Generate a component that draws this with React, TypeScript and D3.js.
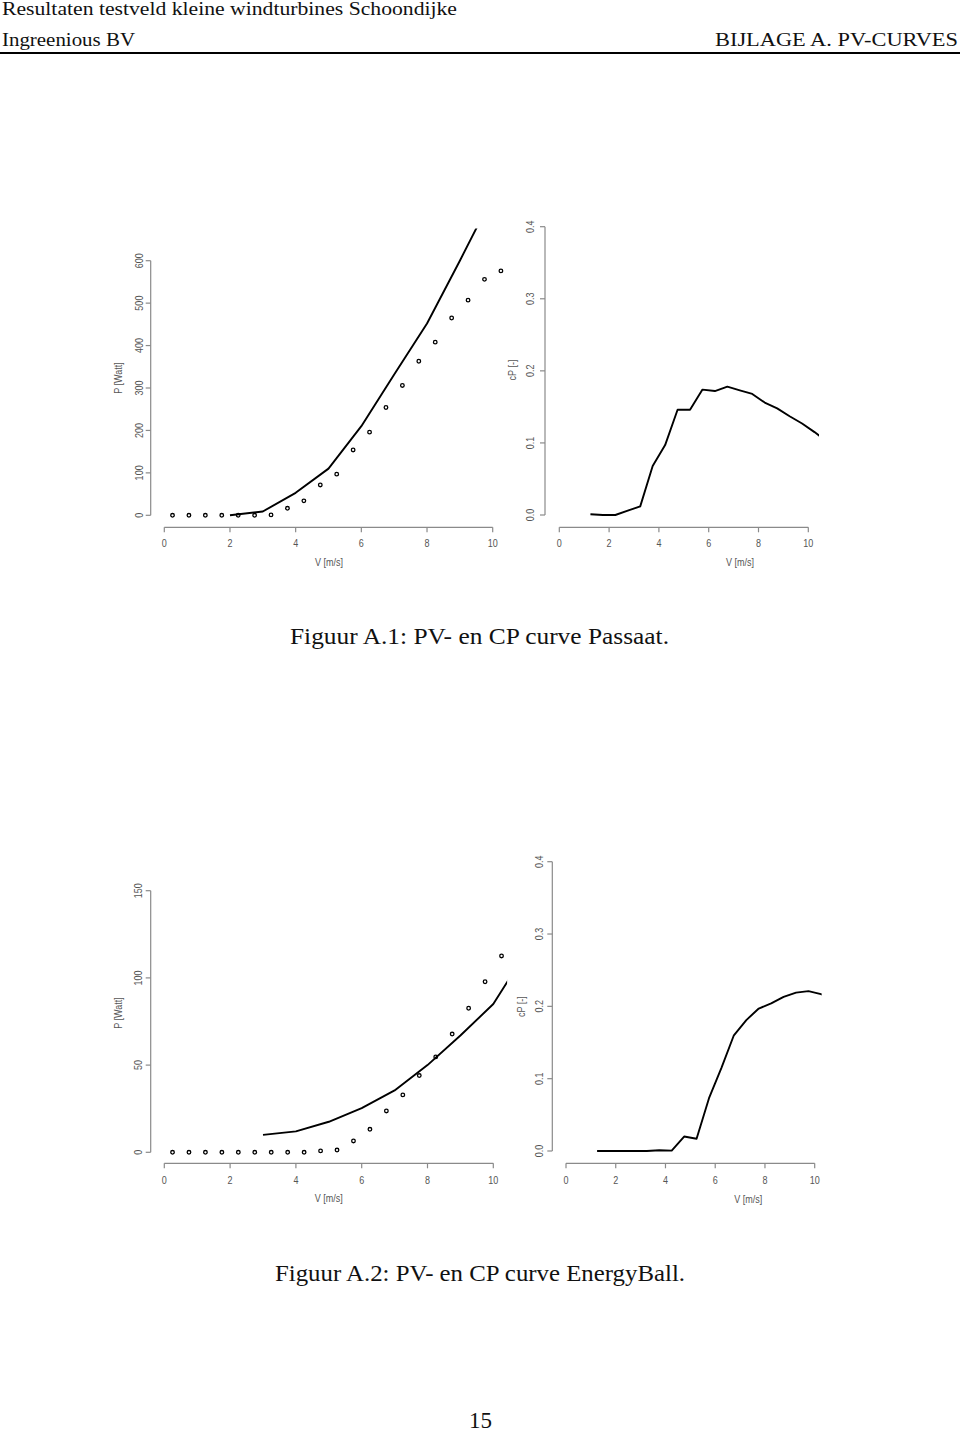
import React from "react";
import * as d3 from "d3";

// ---------- data ----------
const binV = [0.25, 0.75, 1.25, 1.75, 2.25, 2.75, 3.25, 3.75, 4.25, 4.75, 5.25, 5.75, 6.25, 6.75, 7.25, 7.75, 8.25, 8.75, 9.25, 9.75, 10.25];
const passaatP = [0, 0, 0, 0, 0, 0, 1, 16.5, 34, 71.5, 97, 154, 196, 254, 306, 363, 408, 465, 507, 556, 576];
const passaatModelV = [2, 3, 4, 5, 6, 7, 8, 9, 10];
const passaatModelP = [0, 9, 53, 110, 210, 332, 452, 600, 752];

const cpV = [1.25, 1.75, 2.25, 2.75, 3.25, 3.75, 4.25, 4.75, 5.25, 5.75, 6.25, 6.75, 7.25, 7.75, 8.25, 8.75, 9.25, 9.75, 10.25, 10.75];
const passaatCp = [0.001, 0, 0, 0.006, 0.012, 0.068, 0.097, 0.146, 0.146, 0.174, 0.172, 0.178, 0.173, 0.168, 0.156, 0.148, 0.137, 0.127, 0.115, 0.102];

const energyP = [0, 0, 0, 0, 0, 0, 0, 0, 0, 0.8, 1.3, 6.5, 13.2, 23.7, 32.9, 44, 54.7, 67.8, 82.6, 97.8, 112.6];
const energyModelV = [3, 4, 5, 6, 7, 8, 9, 10, 10.5];
const energyModelP = [10, 12, 17.5, 25.3, 35.5, 50, 67, 85, 100];
const energyCp = [0, 0, 0, 0, 0, 0.001, 0.0005, 0.02, 0.017, 0.073, 0.115, 0.16, 0.181, 0.197, 0.204, 0.213, 0.219, 0.221, 0.217, 0.21];

const xTicks = [0, 2, 4, 6, 8, 10];
const pTicksPassaat = [0, 100, 200, 300, 400, 500, 600];
const pTicksEnergy = [0, 50, 100, 150];
const cpTicks = [0, 0.1, 0.2, 0.3, 0.4];

const headerLeft1 = "Resultaten testveld kleine windturbines Schoondijke";
const headerLeft2 = "Ingreenious BV";
const headerRight = "BIJLAGE A.  PV-CURVES";
const caption1 = "Figuur A.1: PV- en CP curve Passaat.";
const caption2 = "Figuur A.2: PV- en CP curve EnergyBall.";
const pageNo = "15";

// ---------- layout ----------
type PanelCfg = {
  id: string;
  xr: [number, number];
  yr: [number, number];
  yMax: number;
  yTicks: number[];
  fmt: (v: number) => string;
  yAxisX: number;
  xAxisY: number;
  yTickBase: number;
  yTitleBase: number;
  yTitleY: number;
  yTitle: string;
  xTickBase: number;
  xTitleX: number;
  xTitleBase: number;
  clipX: number;
  clipY: number;
  pts?: { v: number[]; p: number[] };
  line: { v: number[]; p: number[] };
};

const AXIS = "#8a8a8a";
const TXT = "#555";
const SX = 0.82;

function AxText({ x, y, rot = 0, size = 11, children, anchor = "middle" }: any) {
  return (
    <text
      transform={`translate(${x},${y}) rotate(${rot}) scale(${SX},1)`}
      textAnchor={anchor}
      fontFamily="'Liberation Sans', Arial, sans-serif"
      fontSize={size}
      fill={TXT}
    >
      {children}
    </text>
  );
}

function Panel({ c }: { c: PanelCfg }) {
  const x = d3.scaleLinear().domain([0, 10]).range(c.xr);
  const y = d3.scaleLinear().domain([0, c.yMax]).range(c.yr);
  const line = d3
    .line<number>()
    .x((_, i) => x(c.line.v[i]))
    .y((d) => y(d));
  const clipLeft = x(-0.5);
  const clipRight = x(c.clipX);
  const clipTop = y(c.clipY);
  const clipBottom = y(0) + 8;
  return (
    <g>
      <defs>
        <clipPath id={`clip-${c.id}`}>
          <rect x={clipLeft} y={clipTop} width={clipRight - clipLeft} height={clipBottom - clipTop} />
        </clipPath>
      </defs>
      {/* y axis */}
      <line x1={c.yAxisX} x2={c.yAxisX} y1={y(c.yTicks[0])} y2={y(c.yTicks[c.yTicks.length - 1])} stroke={AXIS} strokeWidth={1.2} />
      {c.yTicks.map((t) => (
        <g key={"yt" + t}>
          <line x1={c.yAxisX - 5} x2={c.yAxisX} y1={y(t)} y2={y(t)} stroke={AXIS} strokeWidth={1.2} />
          <AxText x={c.yTickBase} y={y(t)} rot={-90}>
            {c.fmt(t)}
          </AxText>
        </g>
      ))}
      <AxText x={c.yTitleBase} y={c.yTitleY} rot={-90}>
        {c.yTitle}
      </AxText>
      {/* x axis */}
      <line x1={x(0)} x2={x(10)} y1={c.xAxisY} y2={c.xAxisY} stroke={AXIS} strokeWidth={1.2} />
      {xTicks.map((t) => (
        <g key={"xt" + t}>
          <line x1={x(t)} x2={x(t)} y1={c.xAxisY} y2={c.xAxisY + 5} stroke={AXIS} strokeWidth={1.2} />
          <AxText x={x(t)} y={c.xTickBase}>
            {String(t)}
          </AxText>
        </g>
      ))}
      <AxText x={c.xTitleX} y={c.xTitleBase}>
        V [m/s]
      </AxText>
      {/* data */}
      <g clipPath={`url(#clip-${c.id})`}>
        <path d={line(c.line.p) || ""} fill="none" stroke="#000" strokeWidth={1.9} strokeLinejoin="round" />
        {c.pts &&
          c.pts.v.map((v, i) => (
            <circle key={i} cx={x(v)} cy={y(c.pts!.p[i])} r={1.8} fill="none" stroke="#000" strokeWidth={1.3} />
          ))}
      </g>
    </g>
  );
}

const fmtInt = (v: number) => d3.format("d")(v);
const fmt1 = (v: number) => d3.format(".1f")(v);

const panels: PanelCfg[] = [
  {
    id: "a",
    xr: [164.3, 492.7],
    yr: [515.3, 260.7],
    yMax: 600,
    yTicks: pTicksPassaat,
    fmt: fmtInt,
    yAxisX: 150.7,
    xAxisY: 527.3,
    yTickBase: 142.5,
    yTitleBase: 122,
    yTitleY: 378,
    yTitle: "P [Watt]",
    xTickBase: 547,
    xTitleX: 329,
    xTitleBase: 565.5,
    clipX: 10.45,
    clipY: 676,
    pts: { v: binV, p: passaatP },
    line: { v: passaatModelV, p: passaatModelP },
  },
  {
    id: "b",
    xr: [559.3, 808.3],
    yr: [515, 226.7],
    yMax: 0.4,
    yTicks: cpTicks,
    fmt: fmt1,
    yAxisX: 545,
    xAxisY: 527.3,
    yTickBase: 534,
    yTitleBase: 516,
    yTitleY: 370,
    yTitle: "cP [-]",
    xTickBase: 547,
    xTitleX: 740,
    xTitleBase: 565.5,
    clipX: 10.43,
    clipY: 0.42,
    line: { v: cpV, p: passaatCp },
  },
  {
    id: "c",
    xr: [164.3, 493.3],
    yr: [1152.3, 890.7],
    yMax: 150,
    yTicks: pTicksEnergy,
    fmt: fmtInt,
    yAxisX: 150.7,
    xAxisY: 1163.3,
    yTickBase: 142,
    yTitleBase: 122,
    yTitleY: 1013,
    yTitle: "P [Watt]",
    xTickBase: 1183.5,
    xTitleX: 328.7,
    xTitleBase: 1202,
    clipX: 10.42,
    clipY: 160,
    pts: { v: binV, p: energyP },
    line: { v: energyModelV, p: energyModelP },
  },
  {
    id: "d",
    xr: [566, 814.7],
    yr: [1151, 861.7],
    yMax: 0.4,
    yTicks: cpTicks,
    fmt: fmt1,
    yAxisX: 552.3,
    xAxisY: 1163.3,
    yTickBase: 542.5,
    yTitleBase: 524.5,
    yTitleY: 1006.7,
    yTitle: "cP [-]",
    xTickBase: 1183.5,
    xTitleX: 748.3,
    xTitleBase: 1202.5,
    clipX: 10.28,
    clipY: 0.42,
    line: { v: cpV, p: energyCp },
  },
];

const SERIF = "'Liberation Serif', 'DejaVu Serif', serif";

export default function App() {
  return (
    <div style={{ position: "absolute", left: 0, top: 0 }}>
      <svg width={960} height={1432} style={{ display: "block", background: "#fff" }}>
        <rect width={960} height={1432} fill="#fff" />
        {/* header */}
        <text x={2} y={15} fontFamily={SERIF} fontSize={18} fill="#111" textLength={455} lengthAdjust="spacingAndGlyphs">
          {headerLeft1}
        </text>
        <text x={2} y={46} fontFamily={SERIF} fontSize={18} fill="#111" textLength={133} lengthAdjust="spacingAndGlyphs">
          {headerLeft2}
        </text>
        <text x={958} y={46} fontFamily={SERIF} fontSize={18} fill="#111" textAnchor="end" textLength={243} lengthAdjust="spacingAndGlyphs">
          {headerRight}
        </text>
        <line x1={0} x2={960} y1={53} y2={53} stroke="#000" strokeWidth={2} />

        {panels.map((p) => (
          <Panel key={p.id} c={p} />
        ))}

        {/* captions */}
        <text x={290} y={644} fontFamily={SERIF} fontSize={23} fill="#111" textLength={379} lengthAdjust="spacingAndGlyphs">
          {caption1}
        </text>
        <text x={275} y={1281} fontFamily={SERIF} fontSize={23} fill="#111" textLength={410} lengthAdjust="spacingAndGlyphs">
          {caption2}
        </text>
        <text x={480.5} y={1428} fontFamily={SERIF} fontSize={23} fill="#111" textAnchor="middle">
          {pageNo}
        </text>
      </svg>
    </div>
  );
}
